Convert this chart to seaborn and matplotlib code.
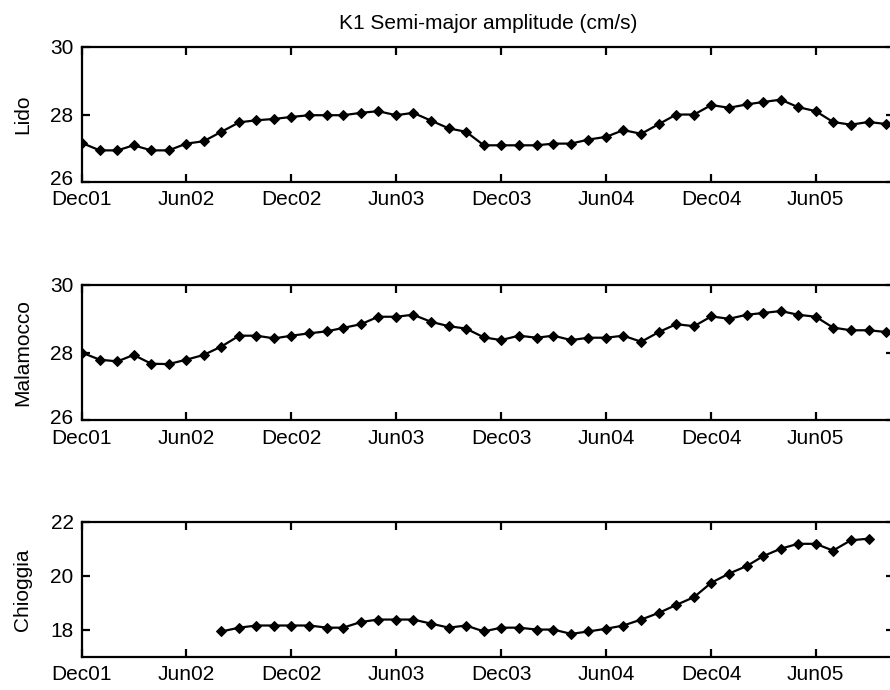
import numpy as np
import pandas as pd
import matplotlib
matplotlib.use("Agg")
import matplotlib.pyplot as plt
import matplotlib.dates as mdates
from matplotlib.transforms import ScaledTranslation
import seaborn as sns

# ----------------------------
# DATA (monthly, Dec 2001 - Oct 2005)
# ----------------------------
months = pd.date_range("2001-12-01", periods=47, freq="MS")

lido = [27.16, 26.94, 26.94, 27.09, 26.94, 26.94, 27.14, 27.21, 27.49, 27.77,
        27.83, 27.87, 27.93, 27.98, 27.98, 27.98, 28.05, 28.10, 27.98, 28.05,
        27.82, 27.59, 27.49, 27.09, 27.09, 27.09, 27.09, 27.14, 27.14, 27.26,
        27.34, 27.54, 27.43, 27.72, 28.00, 28.00, 28.28, 28.20, 28.30, 28.37,
        28.44, 28.22, 28.10, 27.78, 27.70, 27.78, 27.72]

malamocco = [28.00, 27.79, 27.74, 27.93, 27.67, 27.66, 27.79, 27.93, 28.18, 28.50,
             28.50, 28.42, 28.50, 28.57, 28.63, 28.73, 28.84, 29.06, 29.06, 29.12,
             28.91, 28.78, 28.71, 28.45, 28.37, 28.50, 28.44, 28.50, 28.37, 28.44,
             28.44, 28.50, 28.32, 28.61, 28.84, 28.78, 29.07, 29.00, 29.12, 29.17,
             29.23, 29.12, 29.06, 28.74, 28.66, 28.66, 28.61]

chioggia = [None, None, None, None, None, None, None, None, 17.94, 18.08,
            18.16, 18.16, 18.16, 18.16, 18.08, 18.08, 18.29, 18.38, 18.38, 18.38,
            18.23, 18.08, 18.16, 17.94, 18.08, 18.08, 18.01, 18.01, 17.85, 17.94,
            18.04, 18.16, 18.38, 18.63, 18.92, 19.21, 19.74, 20.08, 20.36, 20.72,
            21.00, 21.18, 21.18, 20.93, 21.31, 21.37, None]

stations = ["Lido", "Malamocco", "Chioggia"]
series = [lido, malamocco, chioggia]
ylims = [(26, 30), (26, 30), (17, 22)]
yticks = [[26, 28, 30], [26, 28, 30], [18, 20, 22]]

tick_dates = pd.to_datetime(["2001-12-01", "2002-06-01", "2002-12-01", "2003-06-01",
                             "2003-12-01", "2004-06-01", "2004-12-01", "2005-06-01"])

# ----------------------------
# STYLE
# ----------------------------
sns.set_style("ticks")
plt.rcParams["font.family"] = ["Liberation Sans", "DejaVu Sans"]
plt.rcParams["axes.linewidth"] = 1.6
plt.rcParams["xtick.direction"] = "in"
plt.rcParams["ytick.direction"] = "in"
plt.rcParams["text.color"] = "black"
plt.rcParams["axes.labelcolor"] = "black"
plt.rcParams["xtick.color"] = "black"
plt.rcParams["ytick.color"] = "black"

FS = 15

fig = plt.figure(figsize=(8.9, 6.9), dpi=100)

# axes boxes in figure fractions (right edge runs off the figure like the original)
bottoms = [0.736, 0.391, 0.048]
left, width, height = 0.092, 0.913, 0.196

x_start = pd.Timestamp("2001-12-01")
x_end = x_start + pd.Timedelta(days=1415)

for i, (name, vals) in enumerate(zip(stations, series)):
    ax = fig.add_axes([left, bottoms[i], width, height])
    df = pd.DataFrame({"date": months, "value": pd.array(vals, dtype="Float64")}).dropna()
    df["value"] = df["value"].astype(float)
    sns.lineplot(data=df, x="date", y="value", ax=ax, color="black",
                 marker="D", markersize=5, linewidth=1.6, markeredgecolor="black")

    ax.set_xlim(x_start, x_end)
    ax.set_ylim(*ylims[i])
    ax.set_yticks(yticks[i])
    ax.set_xticks(tick_dates)
    ax.xaxis.set_major_formatter(mdates.DateFormatter("%b%y"))
    ax.tick_params(axis="x", which="both", top=True, bottom=True, length=6,
                   width=1.6, labelsize=FS, pad=6)
    ax.tick_params(axis="y", which="both", left=True, right=True, length=6,
                   width=1.6, labelsize=FS, pad=6)
    ax.set_xlabel("")
    ax.set_ylabel(name, fontsize=FS, labelpad=13)
    for s in ax.spines.values():
        s.set_visible(True)
        s.set_color("black")
    if i < 2:
        # lift the lowest y label a touch so it clears the date label below
        lab = ax.get_yticklabels()[0]
        lab.set_transform(lab.get_transform() + ScaledTranslation(0, 3 / 72, fig.dpi_scale_trans))
    if i == 0:
        ax.set_title("K1 Semi-major amplitude (cm/s)", fontsize=FS, pad=13)

fig.savefig("out.png", dpi=100)
